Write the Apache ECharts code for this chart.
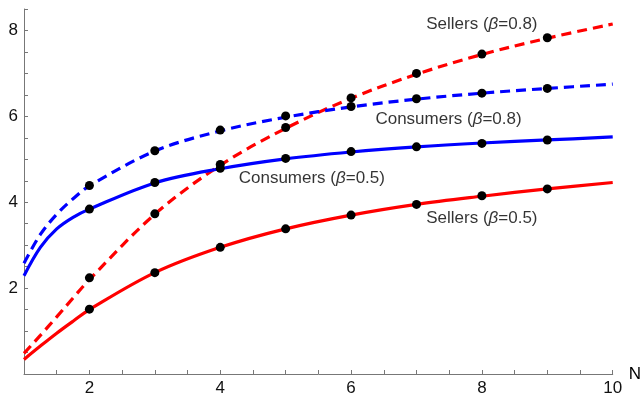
<!DOCTYPE html>
<html>
<head>
<meta charset="utf-8">
<script src="https://cdn.jsdelivr.net/npm/echarts@6/dist/echarts.min.js"></script>
<style>
  html, body { margin: 0; padding: 0; background: #fff; }
  #chart { width: 644px; height: 397px; }
</style>
</head>
<body>
<div id="chart"></div>
<script>
// Smooth curves sampled along N
const lineN = [1, 1.25, 1.5, 1.75, 2, 3, 4, 5, 6, 7, 8, 9, 10];
const consumers05Curve = [2.29, 2.95, 3.38, 3.65, 3.84, 4.45, 4.78, 5.01, 5.17, 5.29, 5.38, 5.45, 5.52];
const consumers08Curve = [2.58, 3.25, 3.72, 4.08, 4.38, 5.19, 5.66, 5.98, 6.22, 6.40, 6.54, 6.65, 6.75];
const sellers05Curve = [0.34, 0.65, 0.95, 1.23, 1.50, 2.36, 2.95, 3.38, 3.70, 3.95, 4.14, 4.31, 4.46];
const sellers08Curve = [0.48, 0.90, 1.33, 1.77, 2.20, 3.72, 4.86, 5.72, 6.42, 6.98, 7.44, 7.82, 8.15];

// Discrete results at integer N
const pointN = [2, 3, 4, 5, 6, 7, 8, 9];
const sellers05Points = [1.51, 2.36, 2.95, 3.38, 3.70, 3.95, 4.15, 4.31];
const sellers08Points = [2.24, 3.73, 4.88, 5.74, 6.43, 7.00, 7.45, 7.83];
const consumers05Points = [3.84, 4.46, 4.79, 5.02, 5.18, 5.29, 5.37, 5.45];
const consumers08Points = [4.39, 5.20, 5.68, 6.01, 6.23, 6.41, 6.54, 6.65];

// Axis tick labels
const xTickLabels = [2, 4, 6, 8, 10];
const yTickLabels = [2, 4, 6, 8];

// Curve annotations: group, beta, anchor N, anchor value
const labelGroups = ['Sellers', 'Consumers', 'Consumers', 'Sellers'];
const labelBetas = ['0.8', '0.8', '0.5', '0.5'];
const labelN = [8.0, 7.49, 5.40, 8.0];
const labelY = [8.15, 5.94, 4.55, 3.62];

const FONT = '"Liberation Sans", Arial, sans-serif';
const zip = (xs, ys) => xs.map((x, i) => [x, ys[i]]);

function curve(name, values, color, dashed) {
  return {
    name: name,
    type: 'line',
    data: zip(lineN, values),
    smooth: 0.35,
    showSymbol: false,
    symbol: 'none',
    lineStyle: { color: color, width: 3.2, type: dashed ? [10, 6] : 'solid', cap: 'butt' },
    z: 2,
    silent: true
  };
}

function dots(name, values) {
  return {
    name: name,
    type: 'scatter',
    data: zip(pointN, values),
    symbol: 'circle',
    symbolSize: 9,
    itemStyle: { color: '#000', opacity: 1 },
    z: 5,
    silent: true
  };
}

const chart = echarts.init(document.getElementById('chart'), null, { renderer: 'canvas' });

chart.setOption({
  animation: false,
  backgroundColor: '#fff',
  grid: { left: 24, top: 9, width: 592, height: 365.5, containLabel: false },
  xAxis: {
    type: 'value',
    min: 1, max: 10, interval: 0.5,
    name: 'N',
    nameLocation: 'end',
    nameGap: 16,
    nameTextStyle: { fontFamily: FONT, fontSize: 17, color: '#000', verticalAlign: 'middle' },
    axisLine: { show: true, onZero: false, lineStyle: { color: '#777', width: 1 } },
    axisTick: { show: true, inside: true, length: 4, lineStyle: { color: '#777', width: 1 } },
    axisLabel: {
      margin: 6, fontFamily: FONT, fontSize: 17, color: '#111',
      showMinLabel: true, showMaxLabel: true,
      formatter: v => xTickLabels.includes(v) ? String(v) : ''
    },
    splitLine: { show: false }
  },
  yAxis: {
    type: 'value',
    min: 0, max: 8.5, interval: 0.5,
    axisLine: { show: true, onZero: false, lineStyle: { color: '#777', width: 1 } },
    axisTick: { show: true, inside: true, length: 4, lineStyle: { color: '#777', width: 1 } },
    axisLabel: {
      margin: 6, fontFamily: FONT, fontSize: 17, color: '#111',
      formatter: v => yTickLabels.includes(v) ? String(v) : ''
    },
    splitLine: { show: false }
  },
  series: [
    curve('Sellers (β=0.5)', sellers05Curve, '#ff0000', false),
    curve('Sellers (β=0.8)', sellers08Curve, '#ff0000', true),
    curve('Consumers (β=0.5)', consumers05Curve, '#0000ff', false),
    curve('Consumers (β=0.8)', consumers08Curve, '#0000ff', true),
    dots('Sellers (β=0.5) points', sellers05Points),
    dots('Sellers (β=0.8) points', sellers08Points),
    dots('Consumers (β=0.5) points', consumers05Points),
    dots('Consumers (β=0.8) points', consumers08Points),
    {
      name: 'annotations',
      type: 'scatter',
      symbolSize: 0,
      silent: true,
      z: 6,
      data: labelGroups.map((g, i) => ({
        value: [labelN[i], labelY[i]],
        label: {
          show: true,
          position: 'inside',
          formatter: g + ' ({b|β}=' + labelBetas[i] + ')',
          fontFamily: FONT, fontSize: 17, color: '#000',
          rich: { b: { fontFamily: FONT, fontSize: 17, fontStyle: 'italic', color: '#000' } }
        }
      }))
    }
  ]
});
</script>
</body>
</html>
